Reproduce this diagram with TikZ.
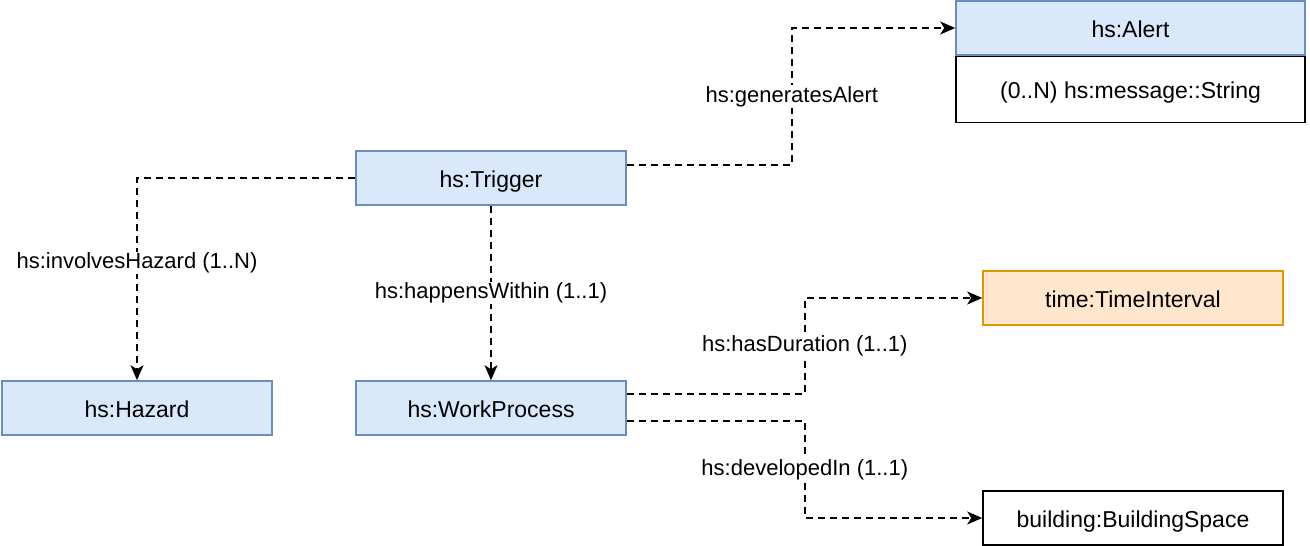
\documentclass[tikz,border=0pt]{standalone}
\usepackage{fontspec}
\setmainfont{Liberation Sans}
\usepackage{xcolor}
\usepackage{tikz}
\usetikzlibrary{arrows.meta,positioning}
\definecolor{clsfill}{HTML}{DAE8FC}
\definecolor{clsdraw}{HTML}{6C8EBF}
\definecolor{timefill}{HTML}{FFE6CC}
\definecolor{timedraw}{HTML}{D79B00}

\begin{document}
\begin{tikzpicture}[x=1pt,y=-1pt,
    cls/.style={draw=clsdraw,fill=clsfill,line width=1.6pt,
                minimum width=270pt,minimum height=54pt,
                text height=20pt,text depth=2pt,
                font=\fontsize{23}{27}\selectfont},
    ext/.style={cls,draw=black,fill=white},
    rel/.style={draw,line width=1.6pt,dash pattern=on 7pt off 5pt,
                -{Stealth[length=15pt,width=13pt,inset=4pt]}},
    lbl/.style={fill=white,inner sep=1pt,font=\fontsize{22}{26}\selectfont}]
    \useasboundingbox (0,0) rectangle (1310,546);
    \node[cls] (trigger) at (491,178) {hs:Trigger};
    \node[cls] (hazard)  at (137,408) {hs:Hazard};
    \node[cls] (wproc)   at (491,408) {hs:WorkProcess};
    \node[cls,minimum width=349pt] (alert) at (1130.5,28) {hs:Alert};
    \node[ext,minimum width=349pt,minimum height=66pt,anchor=north]
      (alertbody) at (alert.south) {(0..N) hs:message::String};
    \node[cls,minimum width=300pt,draw=timedraw,fill=timefill]
      (tint) at (1133,298) {time:TimeInterval};
    \node[ext,minimum width=300pt] (bspace) at (1133,518) {building:BuildingSpace};
    \draw[rel] ([yshift=13pt]trigger.east) -- ++(165,0)
      |- node[lbl,pos=0.25]{hs:generatesAlert} (alert.west);
    \draw[rel] (trigger.west) -| node[lbl,pos=0.71]{hs:involvesHazard (1..N)} (hazard.north);
    \draw[rel] (trigger.south) -- node[lbl]{hs:happensWithin (1..1)} (wproc.north);
    \draw[rel] ([yshift=14pt]wproc.east) -- ++(178,0)
      |- node[lbl,pos=0.25]{hs:hasDuration (1..1)} (tint.west);
    \draw[rel] ([yshift=-13pt]wproc.east) -- ++(178,0)
      |- node[lbl,pos=0.25]{hs:developedIn (1..1)} (bspace.west);
\end{tikzpicture}
\end{document}
